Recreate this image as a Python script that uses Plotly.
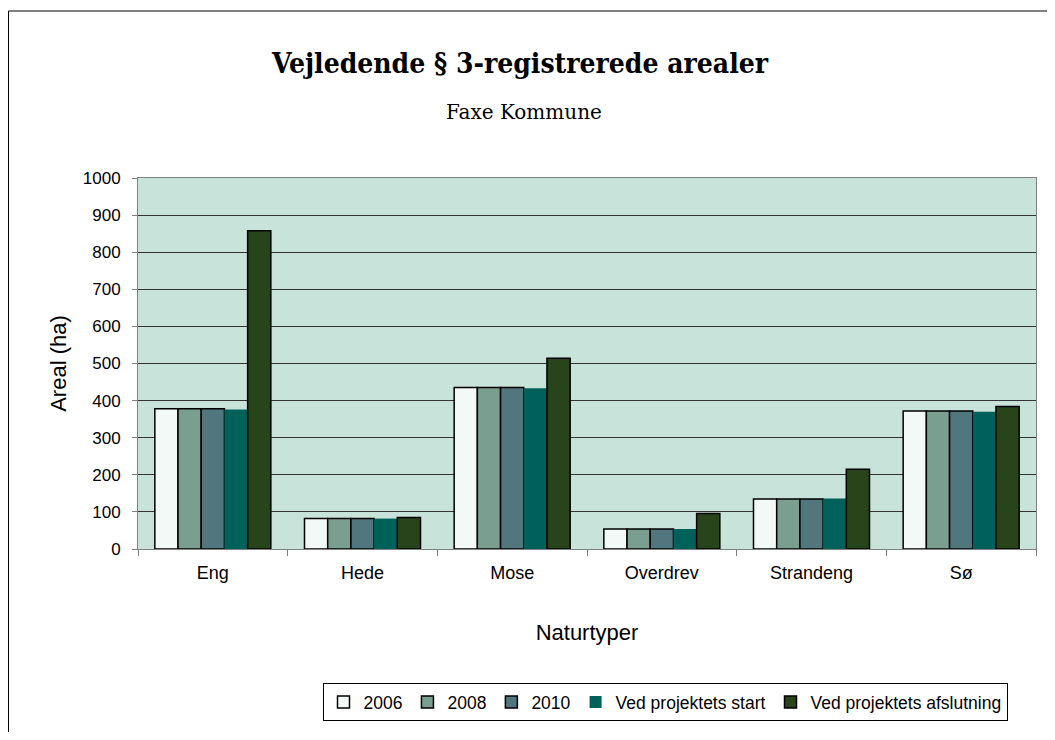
import plotly.graph_objects as go

categories = ["Eng", "Hede", "Mose", "Overdrev", "Strandeng", "Sø"]
series_names = ["2006", "2008", "2010", "Ved projektets start", "Ved projektets afslutning"]
v2006 = [378, 82, 435, 54, 135, 372]
v2008 = [378, 82, 435, 54, 135, 372]
v2010 = [378, 82, 435, 54, 135, 372]
vstart = [376, 82, 433, 54, 136, 370]
vslut = [858, 85, 514, 96, 215, 384]
colors = ["#F2F9F6", "#7A9E8F", "#51767D", "#00605A", "#27441B"]
y_ticks = [0, 100, 200, 300, 400, 500, 600, 700, 800, 900, 1000]

# page has an 8px body margin; figure coords = page coords - 8
OFF = 8
W, H = 1039, 724
ml = 138 - OFF
mt = 178 - OFF
mr = W - (1036 - OFF)
mb = H - (549 - OFF)

fig = go.Figure()
for name, vals, col in zip(series_names, [v2006, v2008, v2010, vstart, vslut], colors):
    lw = 0 if name == "Ved projektets start" else 1.5
    fig.add_trace(go.Bar(
        x=categories, y=vals, name=name,
        marker=dict(color=col, line=dict(color="#000000", width=lw)),
    ))

pw = W - ml - mr
ph = H - mt - mb
def px_x(px):
    return (px - OFF - ml) / pw
def px_y(py):
    return (H - mb - (py - OFF)) / ph
def cx(px):
    return (px - OFF) / W
def cy(py):
    return 1 - (py - OFF) / H

fig.update_layout(
    width=W, height=H,
    margin=dict(l=ml, r=mr, t=mt, b=mb),
    paper_bgcolor="white",
    plot_bgcolor="#C7E3DA",
    barmode="group",
    bargap=0.225,
    bargroupgap=0,
    font=dict(family="Arial, Liberation Sans", color="#000000"),
    title=dict(
        text="<b>Vejledende § 3-registrerede arealer</b>",
        x=cx(520), xref="container", xanchor="center",
        y=cy(63), yref="container", yanchor="middle",
        font=dict(family="DejaVu Serif Condensed, DejaVu Serif", size=28, color="#000000"),
    ),
    legend=dict(
        orientation="h",
        x=px_x(665), xanchor="center",
        y=px_y(683), yanchor="top",
        bordercolor="#000000", borderwidth=1,
        bgcolor="white",
        font=dict(family="Arial, Liberation Sans", size=17.5),
        traceorder="normal",
        itemwidth=30,
    ),
    xaxis=dict(
        title=dict(text="Naturtyper", font=dict(size=22), standoff=43),
        tickfont=dict(size=18),
        showline=True, linecolor="#808080", linewidth=1, mirror=True,
        ticks="outside", tickson="boundaries", ticklen=6, tickcolor="#808080",
        ticklabelstandoff=7,
        showgrid=False,
    ),
    yaxis=dict(
        title=dict(text="Areal (ha)", font=dict(size=22), standoff=10),
        range=[0, 1000],
        tickvals=y_ticks,
        tickfont=dict(size=17),
        showline=True, linecolor="#808080", linewidth=1, mirror=True,
        ticks="outside", ticklen=5, tickcolor="#808080",
        ticklabelstandoff=8,
        showgrid=True, gridcolor="#333333", gridwidth=1,
        zeroline=False,
    ),
    annotations=[
        dict(
            text="Faxe Kommune", x=px_x(524), xref="paper", xanchor="center",
            y=px_y(112), yref="paper", yanchor="middle", showarrow=False,
            font=dict(family="DejaVu Serif", size=20, color="#000000"),
        )
    ],
    shapes=[
        dict(type="rect", xref="paper", yref="paper",
             x0=px_x(8.5), x1=px_x(1070), y0=px_y(760), y1=px_y(11),
             line=dict(color="#000000", width=1), layer="below")
    ],
)

fig.write_html("out.html")
